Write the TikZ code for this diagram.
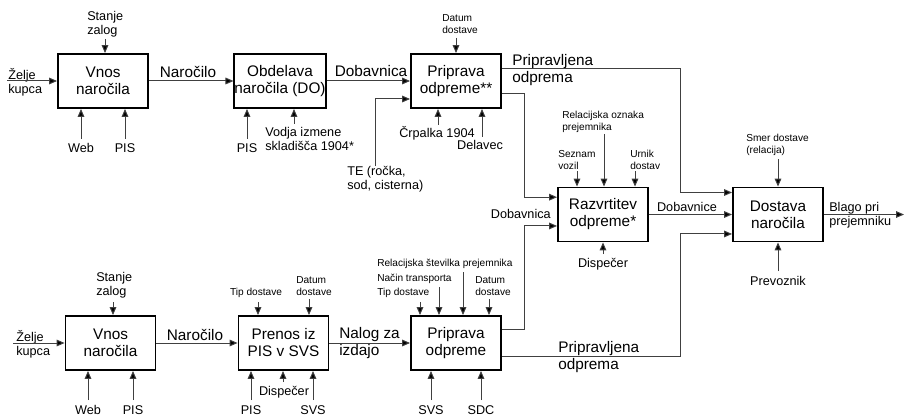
\documentclass[tikz,border=0pt]{standalone}
\usepackage{fontspec}
\setmainfont{Liberation Sans}
\usetikzlibrary{arrows.meta}

\begin{document}
\begin{tikzpicture}[x=0.75pt,y=-0.75pt,
  box/.style={draw=black, line width=1.4pt, minimum width=67.5pt, minimum height=40.5pt,
              inner sep=0pt, align=center, font=\fontsize{11.5}{12.75}\selectfont},
  big/.style={inner sep=0pt, align=left, font=\fontsize{11.5}{12.75}\selectfont},
  mid/.style={inner sep=0pt, align=left, font=\fontsize{9.5}{10.5}\selectfont},
  sml/.style={inner sep=0pt, align=left, font=\fontsize{7.6}{9}\selectfont},
  arr/.style={draw=black!75, line width=0.75pt,
              -{Triangle[length=6pt,width=5pt,fill=black]}}]

\useasboundingbox[fill=white] (0,0) rectangle (905,417);

% ---------- activity boxes ----------
\node[box] (b1) at (103,81)    {Vnos\\naročila};
\node[box] (b2) at (280,81)    {Obdelava\\naročila (DO)};
\node[box] (b3) at (456,81)    {Priprava\\odpreme**};
\node[box] (b4) at (603,214.5) {Razvrtitev\\odpreme*};
\node[box] (b5) at (778,214.5) {Dostava\\naročila};
\node[box] (b6) at (110.5,343) {Vnos\\naročila};
\node[box] (b7) at (283.5,343) {Prenos iz\\PIS v SVS};
\node[box] (b8) at (456,343)   {Priprava\\odpreme};

% ---------- upper chain ----------
\node[mid,anchor=west] (zk1) at (8,82) {Želje\\kupca};
\coordinate (zk1a) at (7,81);
\draw[arr] (zk1a) -- (b1.west);

\node[mid,anchor=west] (sz1) at (87,24) {Stanje\\zalog};
\coordinate (sz1a) at (105,39);
\draw[arr] (sz1a) -- (sz1a |- b1.north);

\node[mid] (web1) at (81,148) {Web};
\coordinate (web1a) at (81,139);
\draw[arr] (web1a) -- (web1a |- b1.south);
\node[mid] (pis1) at (125,148) {PIS};
\coordinate (pis1a) at (125,139);
\draw[arr] (pis1a) -- (pis1a |- b1.south);

\node[big,anchor=base] (nar1) at (188,78) {Naročilo};
\draw[arr] (b1.east) -- (b2.west);

\node[mid] (pis2) at (247,148) {PIS};
\coordinate (pis2a) at (247,139);
\draw[arr] (pis2a) -- (pis2a |- b2.south);
\node[mid,anchor=west] (vod) at (265,139) {Vodja izmene\\skladišča 1904*};
\coordinate (voda) at (294,124);
\draw[arr] (voda) -- (voda |- b2.south);

\node[big,anchor=base] (dob1) at (371,77) {Dobavnica};
\draw[arr] (b2.east) -- (b3.west);

\node[sml,anchor=west] (dd3) at (442,24) {Datum\\dostave};
\coordinate (dd3a) at (456,38);
\draw[arr] (dd3a) -- (dd3a |- b3.north);

\node[mid,anchor=west] (te) at (347,179) {TE (ročka,\\sod, cisterna)};
\coordinate (tea) at (375,166);
\draw[arr] (tea) |- ([yshift=-13.5pt]b3.west);

\node[mid] (crp) at (437,133) {Črpalka 1904};
\coordinate (crpa) at (438,125);
\draw[arr] (crpa) -- (crpa |- b3.south);
\node[mid] (del) at (480,145) {Delavec};
\coordinate (dela) at (482,137);
\draw[arr] (dela) -- (dela |- b3.south);

\node[big,anchor=west] (pr1) at (512,70) {Pripravljena\\odprema};
\coordinate (j1) at (680,140);
\draw[arr] ([yshift=9pt]b3.east) -| (j1) |- ([yshift=16.5pt]b5.west);

\coordinate (j2) at (524,150);
\draw[arr] ([yshift=-9.75pt]b3.east) -| (j2) |- ([yshift=13pt]b4.west);

% ---------- dispatch planning ----------
\node[sml,anchor=west] (sv) at (558,160) {Seznam\\vozil};
\coordinate (sva) at (577,171);
\draw[arr] (sva) -- (sva |- b4.north);
\node[sml,anchor=west] (rel) at (562,122) {Relacijska oznaka\\prejemnika};
\coordinate (rela) at (604,134);
\draw[arr] (rela) -- (rela |- b4.north);
\node[sml,anchor=west] (urn) at (630,160) {Urnik\\dostav};
\coordinate (urna) at (635,171);
\draw[arr] (urna) -- (urna |- b4.north);

\node[mid] (dis4) at (603,264) {Dispečer};
\coordinate (dis4a) at (603,254);
\draw[arr] (dis4a) -- (dis4a |- b4.south);

\node[mid,anchor=east] (dob4) at (551,214) {Dobavnica};
\coordinate (j3) at (524,280);
\draw[arr] ([yshift=10.5pt]b8.east) -| (j3) |- ([yshift=-8.6pt]b4.west);

\node[mid,anchor=base] (dobc) at (687,211) {Dobavnice};
\draw[arr] (b4.east) -- (b5.west);

% ---------- delivery ----------
\node[sml,anchor=west] (smer) at (746,145) {Smer dostave\\(relacija)};
\coordinate (smera) at (778,159);
\draw[arr] (smera) -- (smera |- b5.north);

\node[mid] (prev) at (778,281) {Prevoznik};
\coordinate (preva) at (778,271);
\draw[arr] (preva) -- (preva |- b5.south);

\node[mid,anchor=west] (blago) at (829,215) {Blago pri\\prejemniku};
\coordinate (out) at (904,214.5);
\draw[arr] (b5.east) -- (out);

\coordinate (j4) at (680,300);
\draw[arr] ([yshift=-9.75pt]b8.east) -| (j4) |- ([yshift=-14.6pt]b5.west);
\node[big,anchor=west] (pr2) at (558,357) {Pripravljena\\odprema};

% ---------- lower chain ----------
\node[mid,anchor=west] (zk2) at (16,344) {Želje\\kupca};
\coordinate (zk2a) at (13,343);
\draw[arr] (zk2a) -- (b6.west);

\node[mid,anchor=west] (sz2) at (96,285) {Stanje\\zalog};
\coordinate (sz2a) at (113,302);
\draw[arr] (sz2a) -- (sz2a |- b6.north);

\node[mid] (web2) at (88,410) {Web};
\coordinate (web2a) at (88,400);
\draw[arr] (web2a) -- (web2a |- b6.south);
\node[mid] (pis3) at (133,410) {PIS};
\coordinate (pis3a) at (133,400);
\draw[arr] (pis3a) -- (pis3a |- b6.south);

\node[big,anchor=base] (nar2) at (195,340) {Naročilo};
\draw[arr] (b6.east) -- (b7.west);

\node[sml] (td7) at (256,293) {Tip dostave};
\coordinate (td7a) at (258,302);
\draw[arr] (td7a) -- (td7a |- b7.north);
\node[sml,anchor=west] (dd7) at (296,286) {Datum\\dostave};
\coordinate (dd7a) at (309,299);
\draw[arr] (dd7a) -- (dd7a |- b7.north);

\node[mid] (pis4) at (251,410) {PIS};
\coordinate (pis4a) at (251,400);
\draw[arr] (pis4a) -- (pis4a |- b7.south);
\node[mid] (dis7) at (284,392) {Dispečer};
\coordinate (dis7a) at (283,382);
\draw[arr] (dis7a) -- (dis7a |- b7.south);
\node[mid] (svs7) at (313,410) {SVS};
\coordinate (svs7a) at (313,400);
\draw[arr] (svs7a) -- (svs7a |- b7.south);

\node[big,anchor=west] (nal) at (339,343) {Nalog za\\izdajo};
\draw[arr] (b7.east) -- (b8.west);

\node[sml,anchor=west] (rs8) at (377,264) {Relacijska številka prejemnika};
\node[sml,anchor=west] (nt8) at (377,279) {Način transporta};
\node[sml,anchor=west] (td8) at (377,293) {Tip dostave};
\node[sml,anchor=west] (dd8) at (475,286) {Datum\\dostave};
\coordinate (td8a) at (420,302);
\coordinate (nt8a) at (439,287);
\coordinate (rs8a) at (463,272);
\coordinate (dd8a) at (489,299);
\draw[arr] (td8a) -- (td8a |- b8.north);
\draw[arr] (nt8a) -- (nt8a |- b8.north);
\draw[arr] (rs8a) -- (rs8a |- b8.north);
\draw[arr] (dd8a) -- (dd8a |- b8.north);

\node[mid] (svs8) at (431,410) {SVS};
\coordinate (svs8a) at (431,400);
\draw[arr] (svs8a) -- (svs8a |- b8.south);
\node[mid] (sdc) at (481,410) {SDC};
\coordinate (sdca) at (481,400);
\draw[arr] (sdca) -- (sdca |- b8.south);

\end{tikzpicture}
\end{document}
